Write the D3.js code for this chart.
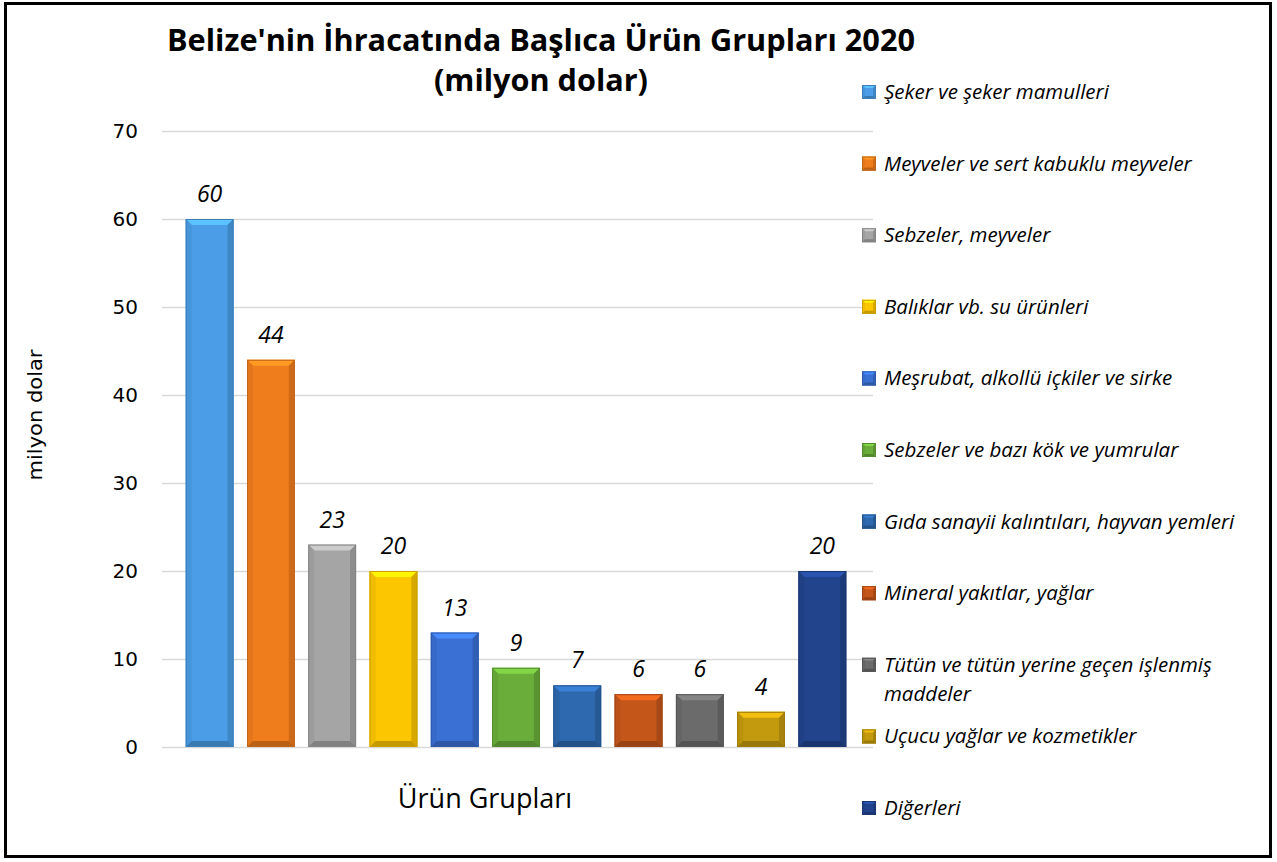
<!DOCTYPE html>
<html>
<head>
<meta charset="utf-8">
<script src="https://cdn.jsdelivr.net/npm/d3@7"></script>
<style>
  body { margin: 0; background: #fff; }
</style>
</head>
<body>
<svg id="chart" width="1277" height="862"></svg>
<script>
const categories = [
  "Şeker ve şeker mamulleri",
  "Meyveler ve sert kabuklu meyveler",
  "Sebzeler, meyveler",
  "Balıklar vb. su ürünleri",
  "Meşrubat, alkollü içkiler ve sirke",
  "Sebzeler ve bazı kök ve yumrular",
  "Gıda sanayii kalıntıları, hayvan yemleri",
  "Mineral yakıtlar, yağlar",
  "Tütün ve tütün yerine geçen işlenmiş maddeler",
  "Uçucu yağlar ve kozmetikler",
  "Diğerleri"
];
const values = [60, 44, 23, 20, 13, 9, 7, 6, 6, 4, 20];
const colors = ["#4a9de6", "#f07d1c", "#a5a5a5", "#fcc600", "#3a70d3", "#6aad3a",
                "#2e68ae", "#c4561a", "#6b6b6b", "#c39a0e", "#22448d"];
const yTicks = [0, 10, 20, 30, 40, 50, 60, 70];

const width = 1277, height = 862;
const svg = d3.select("#chart");

// frame
svg.append("rect")
  .attr("x", 5.5).attr("y", 3.5)
  .attr("width", 1265).attr("height", 853)
  .attr("fill", "#fff").attr("stroke", "#000").attr("stroke-width", 3);

let y = d3.scaleLinear().domain([0, 70]).range([747, 131]);
let x = d3.scaleBand().domain(categories).range([179, 853]).paddingInner(0.22).paddingOuter(0.11);

// grid
svg.append("g")
  .selectAll("line")
  .data(yTicks)
  .enter().append("line")
  .attr("x1", 162).attr("x2", 873)
  .attr("y1", d => y(d) + 0.5).attr("y2", d => y(d) + 0.5)
  .attr("stroke", "#d9d9d9").attr("stroke-width", 1.5);

// y axis labels
let yAxis = svg.append("g")
  .attr("transform", "translate(138,0)")
  .call(d3.axisLeft(y).tickValues(yTicks).tickSize(0).tickPadding(0));
yAxis.select(".domain").remove();
yAxis.selectAll("text")
  .style("font", "20px 'DejaVu Sans'")
  .attr("fill", "#000");

// bars with a bevel
function bevel(g, bx, by, w, h, c, b) {
  let col = d3.color(c);
  g.append("rect").attr("x", bx).attr("y", by).attr("width", w).attr("height", h).attr("fill", c);
  if (h < 2 * b) b = h / 2;
  g.append("polygon")
    .attr("points", [[bx, by], [bx + w, by], [bx + w - b, by + b], [bx + b, by + b]].join(" "))
    .attr("fill", col.brighter(0.6));
  g.append("polygon")
    .attr("points", [[bx, by], [bx + b, by + b], [bx + b, by + h - b], [bx, by + h]].join(" "))
    .attr("fill", col.darker(0.15));
  g.append("polygon")
    .attr("points", [[bx + w, by], [bx + w - b, by + b], [bx + w - b, by + h - b], [bx + w, by + h]].join(" "))
    .attr("fill", col.darker(0.45));
  g.append("polygon")
    .attr("points", [[bx, by + h], [bx + b, by + h - b], [bx + w - b, by + h - b], [bx + w, by + h]].join(" "))
    .attr("fill", col.darker(0.7));
  g.append("rect").attr("x", bx + 0.5).attr("y", by + 0.5).attr("width", w - 1).attr("height", h - 1)
    .attr("fill", "none").attr("stroke", col.darker(0.6)).attr("stroke-width", 1);
}

let bars = svg.append("g");
categories.forEach(function(c, i) {
  bevel(bars.append("g"), x(c), y(values[i]), x.bandwidth(), y(0) - y(values[i]), colors[i], 6);
});

// value labels
svg.append("g")
  .selectAll("text")
  .data(values)
  .enter().append("text")
  .attr("x", (d, i) => x(categories[i]) + x.bandwidth() / 2)
  .attr("y", d => y(d) - 17)
  .attr("text-anchor", "middle")
  .style("font", "italic 23px 'Open Sans'")
  .text(d => d);

// legend
let legend = svg.append("g");
categories.forEach(function(c, i) {
  let ly = 92 + i * 71.6;
  bevel(legend.append("g"), 862, ly - 7, 14, 14, colors[i], 3);
  let lines = [c];
  if (c.length > 40) {
    let words = c.split(" ");
    lines = [words.slice(0, -1).join(" "), words[words.length - 1]];
  }
  lines.forEach(function(l, j) {
    legend.append("text")
      .attr("x", 884).attr("y", ly + 7 + j * 29)
      .style("font", "italic 20.5px 'Open Sans'")
      .text(l);
  });
});

// title
svg.append("text")
  .attr("x", 541).attr("y", 51)
  .attr("text-anchor", "middle")
  .attr("textLength", 748).attr("lengthAdjust", "spacingAndGlyphs")
  .style("font", "bold 31px 'Open Sans'")
  .text("Belize'nin İhracatında Başlıca Ürün Grupları 2020");
svg.append("text")
  .attr("x", 541).attr("y", 91)
  .attr("text-anchor", "middle")
  .attr("textLength", 214).attr("lengthAdjust", "spacingAndGlyphs")
  .style("font", "bold 31px 'Open Sans'")
  .text("(milyon dolar)");

// x axis title
svg.append("text")
  .attr("x", 485).attr("y", 808)
  .attr("text-anchor", "middle")
  .style("font", "27px 'Open Sans'")
  .text("Ürün Grupları");

// y axis title
svg.append("text")
  .attr("transform", "translate(42,415) rotate(-90)")
  .attr("text-anchor", "middle")
  .attr("textLength", 131).attr("lengthAdjust", "spacingAndGlyphs")
  .style("font", "19px 'DejaVu Sans'")
  .text("milyon dolar");
</script>
</body>
</html>
